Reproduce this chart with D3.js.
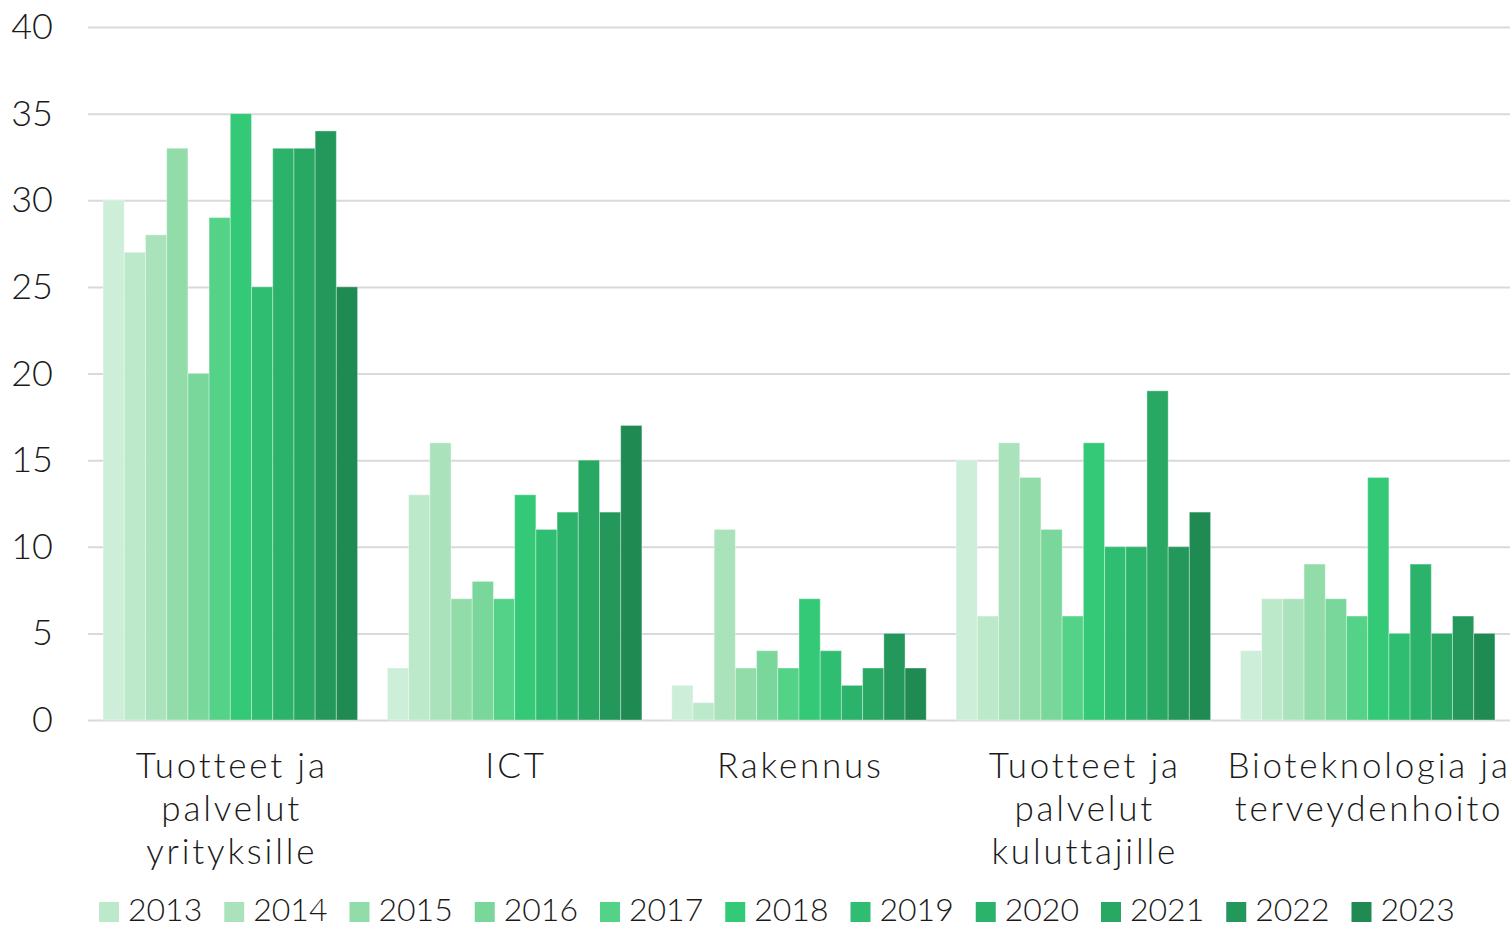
<!DOCTYPE html>
<html>
<head>
<meta charset="utf-8">
<script src="https://cdn.jsdelivr.net/npm/d3@7"></script>
<style>
  body { margin: 0; background: #fff; }
  text { font-family: "Lato", sans-serif; font-weight: 300; fill: #1a1a1a; }
</style>
</head>
<body>
<svg id="chart" width="1512" height="930"></svg>
<script>
const categories = [
  ["Tuotteet ja", "palvelut", "yrityksille"],
  ["ICT"],
  ["Rakennus"],
  ["Tuotteet ja", "palvelut", "kuluttajille"],
  ["Bioteknologia ja", "terveydenhoito"]
];
const years = ["2012", "2013", "2014", "2015", "2016", "2017", "2018", "2019", "2020", "2021", "2022", "2023"];
const legendYears = years.slice(1);
const colors = ["#cdeed9", "#bde9cb", "#aae3bb", "#92dca9", "#79d79b", "#54d287",
                "#33c977", "#2fbe71", "#2cb36b", "#29a863", "#24985b", "#1f8a51"];

const valYrityksille = [30, 27, 28, 33, 20, 29, 35, 25, 33, 33, 34, 25];
const valICT = [3, 13, 16, 7, 8, 7, 13, 11, 12, 15, 12, 17];
const valRakennus = [2, 1, 11, 3, 4, 3, 7, 4, 2, 3, 5, 3];
const valKuluttajille = [15, 6, 16, 14, 11, 6, 16, 10, 10, 19, 10, 12];
const valBiotek = [4, 7, 7, 9, 7, 6, 14, 5, 9, 5, 6, 5];
const seriesByCategory = [valYrityksille, valICT, valRakennus, valKuluttajille, valBiotek];
const yTicks = [0, 5, 10, 15, 20, 25, 30, 35, 40];

const svg = d3.select("#chart");
const plotLeft = 88, plotRight = 1510, plotTop = 27, plotBottom = 720;

const y = d3.scaleLinear([0, 40], [plotBottom, plotTop]);
const x0 = d3.scaleBand(d3.range(categories.length), [plotLeft, plotRight])
  .paddingInner(0.105).paddingOuter(0.053);
const x1 = d3.scaleBand(d3.range(years.length), [0, x0.bandwidth()]);

// grid + y labels
const axisY = d3.axisLeft(y).tickValues(yTicks).tickSize(-(plotRight - plotLeft)).tickPadding(35);
const gy = svg.append("g").attr("transform", `translate(${plotLeft},0)`).call(axisY);
gy.select(".domain").remove();
gy.selectAll(".tick line").attr("stroke", "#d9d9d9").attr("stroke-width", 2);
gy.selectAll(".tick text").attr("font-size", 36).attr("fill", "#1a1a1a")
  .style("font-family", "Lato, sans-serif").style("font-weight", 300);

// bars
const groups = svg.append("g").selectAll("g")
  .data(seriesByCategory)
  .join("g")
  .attr("transform", (d, i) => `translate(${x0(i)},0)`);

groups.selectAll("rect")
  .data(d => d)
  .join("rect")
  .attr("x", (d, j) => x1(j))
  .attr("width", x1.bandwidth())
  .attr("y", d => y(d))
  .attr("height", d => y(0) - y(d))
  .attr("fill", (d, j) => colors[j])
  .attr("stroke", "rgba(255,255,255,0.35)")
  .attr("stroke-width", 1);

// category labels
const labels = svg.append("g").selectAll("text")
  .data(categories)
  .join("text")
  .attr("font-size", 35)
  .attr("letter-spacing", 2.8)
  .attr("text-anchor", "middle")
  .attr("x", (d, i) => x0(i) + x0.bandwidth() / 2 + 1.4)
  .attr("y", 778);
labels.selectAll("tspan")
  .data(d => d)
  .join("tspan")
  .attr("x", function () { return this.parentNode.getAttribute("x"); })
  .attr("dy", (d, i) => i === 0 ? 0 : 43)
  .text(d => d);

// legend
const legend = svg.append("g").attr("transform", "translate(99,0)");
let lx = 0;
legendYears.forEach((yr, i) => {
  const item = legend.append("g").attr("transform", `translate(${lx},0)`);
  item.append("rect").attr("x", 0).attr("y", 902).attr("width", 20).attr("height", 20)
    .attr("fill", colors[i + 1]);
  const t = item.append("text").attr("x", 29).attr("y", 921).attr("font-size", 32).text(yr);
  lx += 29 + t.node().getComputedTextLength() + 22;
});
</script>
</body>
</html>
